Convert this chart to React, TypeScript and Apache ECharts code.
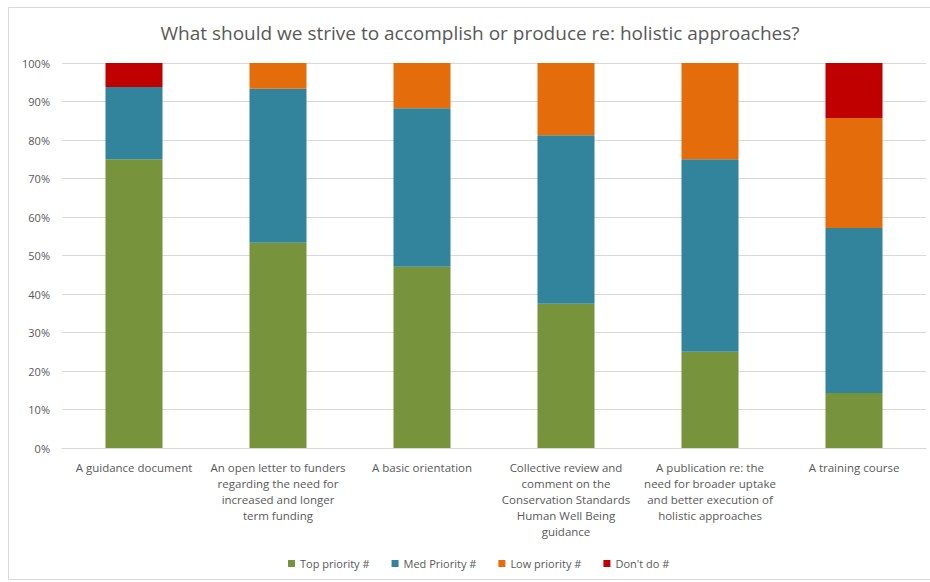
import React, { useEffect, useRef } from "react";
import * as echarts from "echarts";

const categories = [
  "A guidance document",
  "An open letter to funders\nregarding the need for\nincreased and longer\nterm funding",
  "A basic orientation",
  "Collective review and\ncomment on the\nConservation Standards\nHuman Well Being\nguidance",
  "A publication re: the\nneed for broader uptake\nand better execution of\nholistic approaches",
  "A training course",
];

const topPriority = [75, 53.33, 47.06, 37.5, 25, 14.29];
const medPriority = [18.75, 40, 41.18, 43.75, 50, 42.86];
const lowPriority = [0, 6.67, 11.76, 18.75, 25, 28.57];
const dontDo = [6.25, 0, 0, 0, 0, 14.29];

const seriesNames = ["Top priority #", "Med Priority #", "Low priority #", "Don't do #"];
const seriesColors = ["#77933C", "#31849B", "#E46C0A", "#C00000"];
const yTicks = [0, 10, 20, 30, 40, 50, 60, 70, 80, 90, 100];

const FONT = "'Open Sans', Lato, sans-serif";

export default function App() {
  const ref = useRef<HTMLDivElement>(null);
  useEffect(() => {
    if (!ref.current) return;
    const chart = echarts.init(ref.current, undefined, { renderer: "svg" });
    const data = [topPriority, medPriority, lowPriority, dontDo];
    chart.setOption({
      animation: false,
      backgroundColor: "#ffffff",
      title: {
        text: "What should we strive to accomplish or produce re: holistic approaches?",
        left: 475,
        textAlign: "center",
        top: 18,
        textStyle: { fontFamily: FONT, fontSize: 19, fontWeight: "normal", color: "#595959" },
      },
      graphic: [
        {
          type: "rect",
          shape: { x: 8.5, y: 7.5, width: 940, height: 572 },
          style: { fill: "none", stroke: "#D9D9D9", lineWidth: 1 },
          silent: true,
        },
      ],
      legend: {
        bottom: 8,
        left: 283,
        itemWidth: 7,
        itemHeight: 7,
        itemGap: 22,
        icon: "rect",
        textStyle: { fontFamily: FONT, fontSize: 11, color: "#595959" },
        data: seriesNames,
      },
      grid: { left: 62, right: 4, top: 63, bottom: 134 },
      xAxis: {
        type: "category",
        data: categories,
        axisLine: { show: true, lineStyle: { color: "#D9D9D9" } },
        axisTick: { show: false },
        axisLabel: {
          interval: 0,
          margin: 11,
          fontFamily: FONT,
          fontSize: 11.5,
          lineHeight: 16,
          color: "#595959",
          verticalAlign: "top",
        },
      },
      yAxis: {
        type: "value",
        min: 0,
        max: 100,
        interval: 10,
        axisLine: { show: false },
        axisTick: { show: false },
        splitLine: { lineStyle: { color: "#D9D9D9" } },
        axisLabel: {
          margin: 12,
          fontFamily: FONT,
          fontSize: 11,
          color: "#595959",
          formatter: (v: number) => (yTicks.includes(v) ? `${v}%` : ""),
        },
      },
      series: seriesNames.map((name, i) => ({
        name,
        type: "bar",
        stack: "total",
        barWidth: 57,
        itemStyle: { color: seriesColors[i] },
        data: data[i],
      })),
    });
    return () => chart.dispose();
  }, []);
  return (
    <div
      ref={ref}
      style={{ position: "absolute", left: 0, top: 0, width: 930, height: 582 }}
    />
  );
}
